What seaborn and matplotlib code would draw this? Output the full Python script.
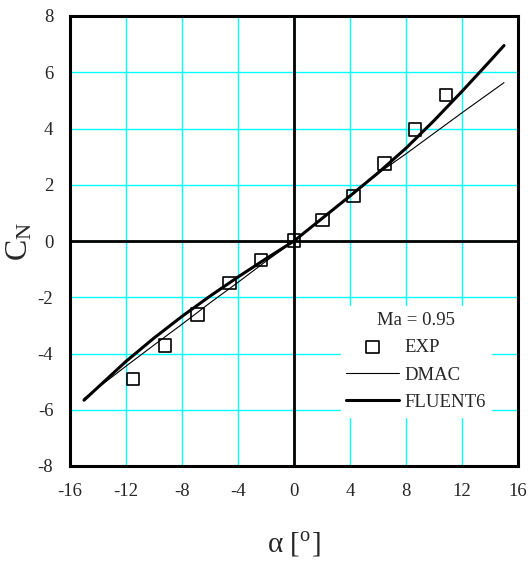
import matplotlib
matplotlib.use("Agg")
import matplotlib.pyplot as plt
import seaborn as sns
import pandas as pd

# Normal-force coefficient vs angle of attack, Ma = 0.95
exp_alpha = [-11.5, -9.2, -6.9, -4.6, -2.35, 0.0, 2.05, 4.25, 6.45, 8.65, 10.85]
exp_cn = [-4.9, -3.72, -2.61, -1.5, -0.68, 0.02, 0.75, 1.61, 2.76, 3.97, 5.2]

dmac_alpha = [-15, -12, -10, -8, -6, -4, -2, 0, 2, 4, 6, 8, 10, 12, 15]
dmac_cn = [-5.6, -4.45, -3.7, -2.96, -2.2, -1.47, -0.72, 0.0, 0.8, 1.62, 2.4,
           3.1, 3.83, 4.56, 5.63]

fluent_alpha = [-15, -12, -10, -8, -6, -4, -2, 0, 2, 4, 6, 8, 10, 12, 14, 15]
fluent_cn = [-5.66, -4.28, -3.45, -2.68, -1.96, -1.28, -0.63, 0.0, 0.8, 1.6, 2.42,
             3.3, 4.28, 5.32, 6.4, 6.95]

x_ticks = [-16, -12, -8, -4, 0, 4, 8, 12, 16]
y_ticks = [-8, -6, -4, -2, 0, 2, 4, 6, 8]

sns.set_theme(style="white")
plt.rcParams["font.family"] = ["Liberation Serif", "DejaVu Serif"]
plt.rcParams["mathtext.fontset"] = "stix"
plt.rcParams["axes.unicode_minus"] = False

fig = plt.figure(figsize=(5.28, 5.62), dpi=100)
ax = fig.add_axes([70 / 528, 1 - 466 / 562, 448 / 528, 450 / 562])

exp_df = pd.DataFrame({"alpha": exp_alpha, "cn": exp_cn})
dmac_df = pd.DataFrame({"alpha": dmac_alpha, "cn": dmac_cn})
fluent_df = pd.DataFrame({"alpha": fluent_alpha, "cn": fluent_cn})

ax.grid(True, color="#00FFFF", linewidth=1.0, zorder=0)
ax.axhline(0, color="black", linewidth=2.0, zorder=1)
ax.axvline(0, color="black", linewidth=2.0, zorder=1)

sns.scatterplot(data=exp_df, x="alpha", y="cn", ax=ax, marker="s", s=80,
                facecolor="none", edgecolor="black", linewidth=1.2,
                label="EXP", zorder=4)
sns.lineplot(data=dmac_df, x="alpha", y="cn", ax=ax, color="black",
             linewidth=0.8, label="DMAC", zorder=3, sort=False)
sns.lineplot(data=fluent_df, x="alpha", y="cn", ax=ax, color="black",
             linewidth=2.2, label="FLUENT6", zorder=3, sort=False)

ax.set_xlim(-16, 16)
ax.set_ylim(-8, 8)
ax.set_xticks(x_ticks)
ax.set_yticks(y_ticks)
ax.set_xticklabels([str(t) for t in x_ticks])
ax.set_yticklabels([str(t) for t in y_ticks])
ax.tick_params(axis="both", length=0, labelsize=13.5, pad=12)

for sp in ax.spines.values():
    sp.set_color("black")
    sp.set_linewidth(2.2)
    sp.set_zorder(5)

ax.set_xlabel(r"α [$^\mathregular{o}$]", fontsize=21, labelpad=22)
ax.set_ylabel(r"C$_\mathregular{N}$", fontsize=23, labelpad=2)

leg = ax.legend(loc="lower left", bbox_to_anchor=(0.583, 0.089),
                title="Ma = 0.95", fontsize=13.5, title_fontsize=13.5,
                frameon=True, fancybox=False, handlelength=2.8,
                handletextpad=0.3, labelspacing=0.55, borderpad=0.3)
leg.get_frame().set_facecolor("white")
leg.get_frame().set_edgecolor("white")
leg.get_frame().set_alpha(1.0)
leg.set_zorder(6)

fig.savefig("out.png", dpi=100)
